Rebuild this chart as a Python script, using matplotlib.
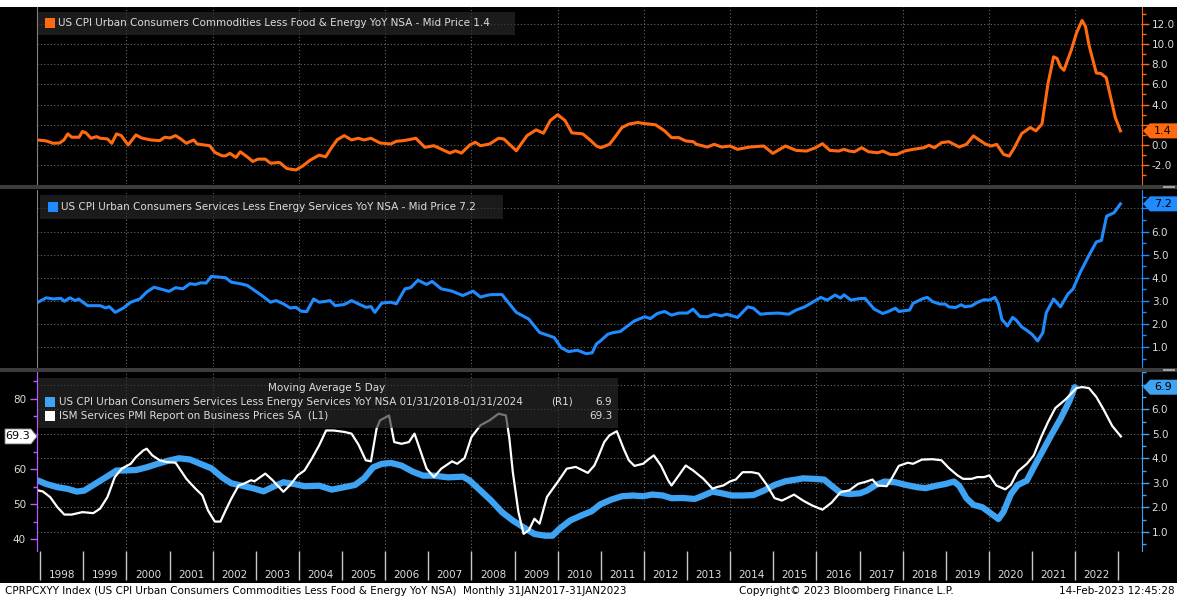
import matplotlib
matplotlib.use("Agg")
import matplotlib.pyplot as plt
from matplotlib.patches import Rectangle, Polygon
from matplotlib.ticker import (MultipleLocator, FuncFormatter, FixedLocator,
                               FixedFormatter, NullFormatter)

# ---- data (decimal years) ----
core_goods_t = [1997.95, 1998.14, 1998.3, 1998.45, 1998.55, 1998.64, 1998.73, 1998.9, 1998.98, 1999.06,
                1999.18, 1999.31, 1999.39, 1999.56, 1999.66, 1999.77, 1999.88, 2000.04, 2000.22, 2000.35,
                2000.56, 2000.77, 2000.89, 2001.01, 2001.14, 2001.26, 2001.39, 2001.56, 2001.64, 2001.93,
                2002.05, 2002.22, 2002.3, 2002.4, 2002.54, 2002.64, 2002.8, 2002.93, 2003.05, 2003.22,
                2003.34, 2003.55, 2003.72, 2003.93, 2004.09, 2004.26, 2004.47, 2004.62, 2004.76, 2004.89,
                2005.05, 2005.22, 2005.38, 2005.51, 2005.67, 2005.88, 2006.13, 2006.26, 2006.42, 2006.55,
                2006.71, 2006.92, 2007.13, 2007.3, 2007.5, 2007.63, 2007.77, 2007.96, 2008.09, 2008.21,
                2008.42, 2008.63, 2008.75, 2009.04, 2009.29, 2009.5, 2009.67, 2009.83, 2010.0, 2010.17,
                2010.33, 2010.58, 2010.75, 2010.9, 2011.0, 2011.2, 2011.32, 2011.49, 2011.65, 2011.86,
                2012.0, 2012.27, 2012.48, 2012.64, 2012.81, 2012.97, 2013.14, 2013.22, 2013.47, 2013.63,
                2013.8, 2014.0, 2014.17, 2014.45, 2014.78, 2014.99, 2015.28, 2015.53, 2015.77, 2015.98,
                2016.14, 2016.31, 2016.51, 2016.64, 2016.76, 2016.88, 2017.05, 2017.21, 2017.42, 2017.54,
                2017.71, 2017.87, 2018.04, 2018.24, 2018.49, 2018.61, 2018.74, 2018.9, 2019.07, 2019.31,
                2019.48, 2019.64, 2019.81, 2019.93, 2020.06, 2020.18, 2020.34, 2020.47, 2020.59, 2020.76,
                2020.96, 2021.09, 2021.23, 2021.37, 2021.5, 2021.58, 2021.66, 2021.74, 2021.91, 2022.03,
                2022.16, 2022.24, 2022.32, 2022.49, 2022.6, 2022.72, 2022.93, 2023.05]
core_goods_v = [0.5, 0.4, 0.17, 0.2, 0.5, 1.1, 0.77, 0.77, 1.33, 1.2,
                0.67, 0.83, 0.67, 0.6, 0.17, 1.1, 0.93, 0.0, 1.0, 0.7,
                0.5, 0.43, 0.77, 0.7, 0.93, 0.6, 0.17, 0.5, 0.1, -0.07,
                -0.73, -1.07, -1.07, -0.83, -1.23, -0.67, -1.17, -1.63, -1.4, -1.4,
                -1.8, -1.73, -2.33, -2.47, -2.07, -1.5, -1.0, -1.17, -0.23, 0.53,
                0.93, 0.5, 0.67, 0.5, 0.67, 0.2, 0.1, 0.37, 0.43, 0.53,
                0.67, -0.23, -0.07, -0.4, -0.8, -0.57, -0.8, 0.0, 0.27, -0.07,
                0.1, 0.67, 0.6, -0.57, 0.93, 1.5, 1.17, 2.43, 3.0, 2.43,
                1.2, 1.1, 0.5, -0.1, -0.27, 0.07, 0.73, 1.73, 2.07, 2.23,
                2.13, 2.0, 1.4, 0.73, 0.73, 0.4, 0.33, 0.07, -0.2, 0.07,
                -0.2, -0.1, -0.43, -0.2, -0.1, -0.83, -0.1, -0.53, -0.6, -0.27,
                0.13, -0.53, -0.6, -0.43, -0.6, -0.67, -0.27, -0.67, -0.77, -0.6,
                -0.93, -0.93, -0.6, -0.43, -0.27, -0.03, -0.27, 0.23, 0.33, -0.2,
                0.07, 0.9, 0.4, 0.07, -0.1, 0.07, -0.93, -1.1, -0.27, 1.13,
                1.73, 1.4, 2.07, 6.07, 8.73, 8.57, 7.73, 7.4, 9.4, 11.07,
                12.33, 11.73, 9.9, 7.13, 7.07, 6.67, 2.73, 1.4]

services_t = [1997.95, 1998.14, 1998.31, 1998.48, 1998.56, 1998.69, 1998.81, 1998.89, 1999.1, 1999.39,
              1999.52, 1999.6, 1999.74, 1999.93, 2000.1, 2000.31, 2000.47, 2000.64, 2000.85, 2000.99,
              2001.14, 2001.31, 2001.47, 2001.6, 2001.72, 2001.85, 2001.97, 2002.14, 2002.3, 2002.43,
              2002.64, 2002.8, 2002.97, 2003.14, 2003.34, 2003.47, 2003.64, 2003.8, 2003.93, 2004.05,
              2004.18, 2004.34, 2004.47, 2004.63, 2004.72, 2004.84, 2005.05, 2005.22, 2005.38, 2005.55,
              2005.67, 2005.76, 2005.92, 2006.13, 2006.26, 2006.46, 2006.59, 2006.76, 2006.96, 2007.09,
              2007.3, 2007.55, 2007.8, 2008.04, 2008.21, 2008.34, 2008.46, 2008.71, 2008.79, 2009.04,
              2009.33, 2009.58, 2009.92, 2010.08, 2010.25, 2010.46, 2010.66, 2010.8, 2010.9, 2010.99,
              2011.16, 2011.28, 2011.45, 2011.57, 2011.78, 2012.02, 2012.15, 2012.31, 2012.48, 2012.64,
              2012.81, 2013.01, 2013.14, 2013.3, 2013.47, 2013.63, 2013.8, 2013.92, 2014.17, 2014.41,
              2014.54, 2014.7, 2014.87, 2015.11, 2015.36, 2015.53, 2015.73, 2015.94, 2016.1, 2016.25,
              2016.43, 2016.56, 2016.64, 2016.8, 2017.01, 2017.13, 2017.34, 2017.54, 2017.67, 2017.83,
              2017.91, 2018.16, 2018.24, 2018.45, 2018.57, 2018.69, 2018.86, 2018.99, 2019.07, 2019.23,
              2019.36, 2019.44, 2019.6, 2019.73, 2019.89, 2020.01, 2020.14, 2020.22, 2020.3, 2020.43,
              2020.55, 2020.63, 2020.76, 2020.88, 2021.0, 2021.13, 2021.25, 2021.33, 2021.5, 2021.66,
              2021.83, 2021.95, 2022.12, 2022.32, 2022.49, 2022.61, 2022.73, 2022.9, 2023.05]
services_v = [2.94, 3.13, 3.08, 3.11, 2.98, 3.13, 3.01, 3.08, 2.79, 2.79,
              2.69, 2.75, 2.5, 2.69, 2.94, 3.08, 3.38, 3.59, 3.48, 3.41,
              3.57, 3.52, 3.74, 3.71, 3.78, 3.77, 4.06, 4.03, 4.0, 3.81,
              3.74, 3.67, 3.45, 3.23, 2.94, 3.01, 2.87, 2.69, 2.72, 2.55,
              2.53, 3.08, 2.94, 2.98, 3.01, 2.79, 2.84, 3.01, 2.87, 2.72,
              2.75, 2.5, 2.9, 2.94, 2.87, 3.52, 3.57, 3.89, 3.71, 3.84,
              3.52, 3.42, 3.23, 3.42, 3.16, 3.23, 3.27, 3.27, 3.08, 2.5,
              2.21, 1.63, 1.41, 0.97, 0.8, 0.86, 0.71, 0.75, 1.14, 1.26,
              1.55, 1.62, 1.67, 1.84, 2.13, 2.31, 2.23, 2.45, 2.54, 2.38,
              2.47, 2.47, 2.64, 2.32, 2.31, 2.42, 2.35, 2.42, 2.28, 2.74,
              2.68, 2.42, 2.45, 2.47, 2.42, 2.6, 2.74, 2.97, 3.15, 3.03,
              3.25, 3.12, 3.26, 3.03, 3.1, 3.1, 2.64, 2.45, 2.54, 2.68,
              2.54, 2.6, 2.89, 3.08, 3.15, 2.97, 2.86, 2.86, 2.74, 2.71,
              2.83, 2.74, 2.78, 2.93, 3.05, 3.03, 3.15, 2.86, 2.2, 1.91,
              2.28, 2.17, 1.87, 1.72, 1.55, 1.26, 1.62, 2.49, 3.08, 2.74,
              3.29, 3.51, 4.24, 4.97, 5.55, 5.62, 6.67, 6.81, 7.2]

services_ma_t = [1997.95, 1998.14, 1998.4, 1998.64, 1998.85, 1999.02, 1999.27, 1999.52, 1999.77, 1999.93,
                 2000.22, 2000.47, 2000.72, 2000.97, 2001.22, 2001.47, 2001.72, 2001.97, 2002.22, 2002.43,
                 2002.68, 2002.93, 2003.18, 2003.43, 2003.64, 2003.89, 2004.13, 2004.47, 2004.76, 2005.05,
                 2005.3, 2005.51, 2005.72, 2005.92, 2006.13, 2006.38, 2006.63, 2006.88, 2007.13, 2007.46,
                 2007.8, 2007.96, 2008.21, 2008.46, 2008.71, 2008.96, 2009.21, 2009.46, 2009.71, 2009.88,
                 2010.04, 2010.29, 2010.54, 2010.79, 2010.99, 2011.24, 2011.49, 2011.74, 2011.98, 2012.19,
                 2012.44, 2012.64, 2012.89, 2013.18, 2013.38, 2013.59, 2013.8, 2014.04, 2014.29, 2014.54,
                 2014.78, 2015.03, 2015.28, 2015.53, 2015.69, 2015.94, 2016.18, 2016.35, 2016.56, 2016.76,
                 2017.01, 2017.17, 2017.38, 2017.58, 2017.83, 2018.08, 2018.33, 2018.53, 2018.78, 2018.99,
                 2019.19, 2019.31, 2019.48, 2019.64, 2019.85, 2020.06, 2020.22, 2020.34, 2020.51, 2020.67,
                 2020.88, 2021.04, 2021.25, 2021.46, 2021.66, 2021.87, 2021.99]
services_ma_v = [3.09, 2.95, 2.82, 2.75, 2.64, 2.68, 2.95, 3.22, 3.5, 3.5,
                 3.52, 3.63, 3.77, 3.9, 4.0, 3.95, 3.77, 3.59, 3.22, 2.98,
                 2.88, 2.78, 2.65, 2.86, 3.02, 2.95, 2.86, 2.88, 2.72, 2.82,
                 2.91, 3.18, 3.63, 3.77, 3.81, 3.7, 3.46, 3.29, 3.29, 3.22,
                 3.25, 3.09, 2.68, 2.27, 1.8, 1.46, 1.18, 0.91, 0.84, 0.84,
                 1.12, 1.46, 1.66, 1.84, 2.12, 2.31, 2.45, 2.48, 2.45, 2.52,
                 2.48, 2.37, 2.38, 2.34, 2.48, 2.64, 2.57, 2.48, 2.48, 2.5,
                 2.68, 2.91, 3.06, 3.13, 3.18, 3.16, 3.13, 2.88, 2.59, 2.54,
                 2.57, 2.68, 2.91, 3.05, 3.02, 2.91, 2.82, 2.78, 2.88, 2.95,
                 3.05, 2.88, 2.37, 2.1, 2.0, 1.73, 1.52, 1.82, 2.54, 2.91,
                 3.09, 3.63, 4.31, 4.99, 5.61, 6.35, 6.9]

ism_t = [1997.95, 1998.06, 1998.23, 1998.4, 1998.56, 1998.73, 1998.98, 1999.23, 1999.39, 1999.56,
         1999.73, 1999.89, 2000.1, 2000.22, 2000.39, 2000.47, 2000.6, 2000.77, 2000.93, 2001.14,
         2001.39, 2001.6, 2001.76, 2001.89, 2002.05, 2002.18, 2002.3, 2002.43, 2002.6, 2002.72,
         2002.89, 2002.97, 2003.22, 2003.39, 2003.64, 2003.8, 2003.97, 2004.13, 2004.3, 2004.47,
         2004.63, 2004.8, 2005.05, 2005.22, 2005.38, 2005.55, 2005.67, 2005.8, 2005.88, 2006.09,
         2006.21, 2006.38, 2006.55, 2006.68, 2006.8, 2006.96, 2007.13, 2007.3, 2007.55, 2007.67,
         2007.84, 2008.0, 2008.21, 2008.42, 2008.63, 2008.8, 2008.88, 2008.96, 2009.09, 2009.21,
         2009.33, 2009.46, 2009.58, 2009.75, 2009.83, 2010.0, 2010.21, 2010.42, 2010.7, 2010.85,
         2010.94, 2011.08, 2011.2, 2011.37, 2011.53, 2011.65, 2011.78, 2011.98, 2012.11, 2012.23,
         2012.4, 2012.56, 2012.64, 2012.81, 2012.97, 2013.14, 2013.38, 2013.59, 2013.71, 2013.84,
         2014.0, 2014.13, 2014.29, 2014.5, 2014.66, 2014.83, 2015.03, 2015.2, 2015.32, 2015.48,
         2015.69, 2015.9, 2016.14, 2016.35, 2016.56, 2016.76, 2016.97, 2017.13, 2017.3, 2017.42,
         2017.63, 2017.75, 2017.91, 2018.12, 2018.24, 2018.45, 2018.69, 2018.9, 2019.07, 2019.27,
         2019.4, 2019.6, 2019.73, 2019.89, 2020.01, 2020.17, 2020.38, 2020.51, 2020.67, 2020.88,
         2021.04, 2021.21, 2021.37, 2021.54, 2021.78, 2022.03, 2022.16, 2022.32, 2022.49, 2022.65,
         2022.86, 2023.06]
ism_v = [53.9, 53.6, 52.0, 49.1, 47.0, 47.0, 47.7, 47.4, 48.7, 52.0,
         57.7, 60.1, 61.5, 63.4, 65.3, 65.8, 63.9, 62.5, 62.0, 61.8,
         57.2, 54.4, 52.5, 48.2, 45.0, 45.0, 48.2, 51.5, 55.3, 55.8,
         56.8, 56.5, 58.7, 56.8, 53.5, 55.5, 58.2, 59.6, 63.0, 66.8,
         71.0, 71.0, 70.6, 70.1, 67.0, 62.5, 62.2, 71.5, 73.9, 75.3,
         67.7, 67.2, 67.7, 70.1, 65.8, 60.1, 57.7, 60.1, 62.2, 61.5,
         63.1, 69.1, 72.5, 73.9, 75.8, 75.3, 68.7, 59.1, 47.7, 41.5,
         42.5, 45.8, 44.4, 52.0, 53.4, 56.3, 60.1, 60.6, 58.9, 61.0,
         63.5, 67.7, 69.6, 70.8, 65.8, 62.5, 60.9, 61.5, 62.8, 63.9,
         60.9, 56.8, 55.3, 58.2, 61.0, 59.6, 57.2, 54.4, 54.9, 55.3,
         56.5, 57.0, 59.1, 59.1, 58.7, 55.8, 51.7, 51.0, 51.7, 52.7,
         51.0, 49.6, 48.4, 50.4, 53.4, 53.9, 55.8, 56.3, 57.0, 55.3,
         55.1, 57.4, 60.9, 61.8, 61.5, 62.7, 62.8, 62.5, 60.3, 58.2,
         57.2, 57.2, 57.7, 57.7, 58.2, 55.3, 54.2, 55.5, 59.3, 61.5,
         63.9, 69.1, 73.4, 77.4, 79.9, 83.1, 83.4, 83.1, 80.6, 77.2,
         72.3, 69.3]

years = list(range(1998, 2023))

W, H = 1177, 600
X0, X1 = 1997.926, 2023.55
ORANGE = '#ff6a10'
BLUE = '#1f8bff'
BLUE_MA = '#3ea3f2'
PURPLE = '#b55dff'
GRID = '#6a6a6a'
TXT = '#dcdcdc'
FS = 7.5

plt.rcParams['font.family'] = 'DejaVu Sans'
fig = plt.figure(figsize=(W / 100, H / 100), dpi=100, facecolor='black')


def fx(px):
    return px / W


def fy(py):
    return 1 - py / H


def box(x0, y0, x1, y1, **kw):
    fig.add_artist(Rectangle((fx(x0), fy(y1)), fx(x1) - fx(x0), fy(y0) - fy(y1),
                             transform=fig.transFigure, edgecolor='none', **kw))


def hide_near(last, gap, fmt):
    # tick labels sitting under the last-value tag are not shown
    return FuncFormatter(lambda v, p: '' if abs(v - last) < gap else fmt % v)


def panel(y0, y1, ylim, color, major, minor, last, gap, left_color='#808080'):
    ax = fig.add_axes([fx(37), fy(y1), fx(1142) - fx(37), fy(y0) - fy(y1)])
    ax.set_facecolor('black')
    ax.set_xlim(X0, X1)
    ax.set_ylim(*ylim)
    ax.set_axisbelow(True)
    for s in ('top', 'bottom'):
        ax.spines[s].set_visible(False)
    ax.spines['right'].set_color(color)
    ax.spines['left'].set_color(left_color)
    ax.yaxis.tick_right()
    ax.yaxis.set_major_locator(MultipleLocator(major))
    ax.yaxis.set_minor_locator(MultipleLocator(minor))
    ax.yaxis.set_major_formatter(hide_near(last, gap, '%.1f'))
    ax.tick_params(axis='y', which='both', direction='out', colors=color,
                   labelcolor=TXT, labelsize=FS, pad=2)
    ax.tick_params(axis='y', which='major', length=5, width=1)
    ax.tick_params(axis='y', which='minor', length=3, width=1)
    ax.tick_params(axis='x', which='both', bottom=False, labelbottom=False)
    ax.grid(axis='y', which='major', color=GRID, linestyle=(0, (1, 2)), linewidth=0.8)
    for yr in range(2000, 2023, 2):
        ax.axvline(yr, color=GRID, linestyle=(0, (1, 2)), linewidth=0.8, zorder=0.5)
    return ax


def tag_right(ax, value, color, text):
    yc = ax.transData.transform((X1, value))[1]
    pts = [(1143, yc), (1150, yc + 7.5), (1177, yc + 7.5), (1177, yc - 7.5), (1150, yc - 7.5)]
    fig.add_artist(Polygon([(x / W, y / H) for x, y in pts], closed=True, transform=fig.transFigure,
                           facecolor=color, edgecolor='none', zorder=5))
    fig.text(1163 / W, yc / H, text, color='black', fontsize=8, ha='center', va='center', zorder=6)


# ---- panels ----
ax1 = panel(7, 184, (-3.86, 13.66), ORANGE, 2, 1, core_goods_v[-1], 1.0)
ax1.plot(core_goods_t, core_goods_v, color=ORANGE, lw=2.2, solid_joinstyle='round')

ax2 = panel(190, 367, (0.134, 7.8), BLUE, 1, 0.5, services_v[-1], 0.45)
ax2.plot(services_t, services_v, color=BLUE, lw=2.2, solid_joinstyle='round')

ax3 = panel(372, 551, (0.216, 7.52), BLUE_MA, 1, 0.5, services_ma_v[-1], 0.45, left_color=PURPLE)
ax3l = ax3.twinx()
ax3.yaxis.tick_right()
ax3l.yaxis.tick_left()
ax3l.set_ylim(36.6, 87.7)
for s in ('top', 'bottom', 'right'):
    ax3l.spines[s].set_visible(False)
ax3l.spines['left'].set_color(PURPLE)
ax3l.yaxis.set_major_locator(MultipleLocator(10))
ax3l.yaxis.set_minor_locator(MultipleLocator(5))
ax3l.yaxis.set_major_formatter(hide_near(ism_v[-1], 3.5, '%d'))
ax3l.tick_params(axis='y', which='both', direction='out', colors=PURPLE, labelcolor=TXT,
                 labelsize=FS, pad=3)
ax3l.tick_params(axis='y', which='major', length=5, width=1)
ax3l.tick_params(axis='y', which='minor', length=3, width=1)

ax3.plot(services_ma_t, services_ma_v, color=BLUE_MA, lw=4.5, solid_capstyle='round')
ax3l.plot(ism_t, ism_v, color='white', lw=1.6, solid_joinstyle='round')

# yearly x axis on the bottom panel
ax3.xaxis.set_major_locator(FixedLocator(years + [years[-1] + 1]))
ax3.xaxis.set_major_formatter(NullFormatter())
ax3.xaxis.set_minor_locator(FixedLocator([y + 0.5 for y in years]))
ax3.xaxis.set_minor_formatter(FixedFormatter([str(y) for y in years]))
ax3.tick_params(axis='x', which='major', bottom=True, length=21, width=1, color='#c8c8c8',
                direction='out')
ax3.tick_params(axis='x', which='minor', bottom=True, length=0, labelbottom=True,
                labelsize=FS, labelcolor=TXT, pad=14)

# ---- frame pieces ----
box(0, 0, W, 7, facecolor='white')
box(0, 583, W, H, facecolor='white')
for y0 in (185, 368):
    box(0, y0, W, y0 + 3.5, facecolor='#3c3c3c')
    box(1163, y0 + 1, 1175, y0 + 1.6, facecolor='#a0a0a0')
    box(1163, y0 + 2.4, 1175, y0 + 3, facecolor='#a0a0a0')

# ---- legends ----
LEG = dict(facecolor='#2a2a2a', alpha=0.65, zorder=2)
box(38, 12, 515, 35, **LEG)
box(45, 18, 55, 28, facecolor=ORANGE, zorder=3)
fig.text(fx(58), fy(23.5),
         'US CPI Urban Consumers Commodities Less Food & Energy YoY NSA - Mid Price %.1f' % core_goods_v[-1],
         color=TXT, fontsize=FS, va='center', zorder=4)

box(40, 195, 503, 219, **LEG)
box(48, 202, 58, 212, facecolor=BLUE, zorder=3)
fig.text(fx(61), fy(207.5),
         'US CPI Urban Consumers Services Less Energy Services YoY NSA - Mid Price %.1f' % services_v[-1],
         color=TXT, fontsize=FS, va='center', zorder=4)

box(38, 378, 618, 428, **LEG)
fig.text(fx(327), fy(388), 'Moving Average 5 Day', color=TXT, fontsize=FS, ha='center', va='center', zorder=4)
box(45, 397, 55, 407, facecolor=BLUE_MA, zorder=3)
fig.text(fx(59), fy(402),
         'US CPI Urban Consumers Services Less Energy Services YoY NSA 01/31/2018-01/31/2024',
         color=TXT, fontsize=FS, va='center', zorder=4)
fig.text(fx(551), fy(402), '(R1)', color=TXT, fontsize=FS, va='center', zorder=4)
fig.text(fx(612), fy(402), '%.1f' % services_ma_v[-1], color=TXT, fontsize=FS, ha='right', va='center', zorder=4)
box(45, 411, 55, 421, facecolor='white', zorder=3)
fig.text(fx(59), fy(416), 'ISM Services PMI Report on Business Prices SA  (L1)',
         color=TXT, fontsize=FS, va='center', zorder=4)
fig.text(fx(612), fy(416), '%.1f' % ism_v[-1], color=TXT, fontsize=FS, ha='right', va='center', zorder=4)

# ---- last value tags ----
tag_right(ax1, core_goods_v[-1], ORANGE, '%.1f' % core_goods_v[-1])
tag_right(ax2, services_v[-1], BLUE, '%.1f' % services_v[-1])
tag_right(ax3, services_ma_v[-1], BLUE_MA, '%.1f' % services_ma_v[-1])
yc = ax3l.transData.transform((X0, ism_v[-1]))[1]
pts = [(37, yc), (31, yc + 7.5), (5, yc + 7.5), (5, yc - 7.5), (31, yc - 7.5)]
fig.add_artist(Polygon([(x / W, y / H) for x, y in pts], closed=True, transform=fig.transFigure,
                       facecolor='white', edgecolor='#808080', lw=0.6, zorder=5))
fig.text(18 / W, yc / H, '%.1f' % ism_v[-1], color='black', fontsize=8, ha='center', va='center', zorder=6)

# ---- footer ----
fig.text(fx(5), fy(591),
         'CPRPCXYY Index (US CPI Urban Consumers Commodities Less Food & Energy YoY NSA)  Monthly 31JAN2017-31JAN2023',
         color='black', fontsize=FS, va='center')
fig.text(fx(739), fy(591), 'Copyright\u00a9 2023 Bloomberg Finance L.P.', color='black', fontsize=FS, va='center')
fig.text(fx(1175), fy(591), '14-Feb-2023 12:45:28', color='black', fontsize=FS, ha='right', va='center')

fig.savefig('out.png', dpi=100, facecolor=fig.get_facecolor())
